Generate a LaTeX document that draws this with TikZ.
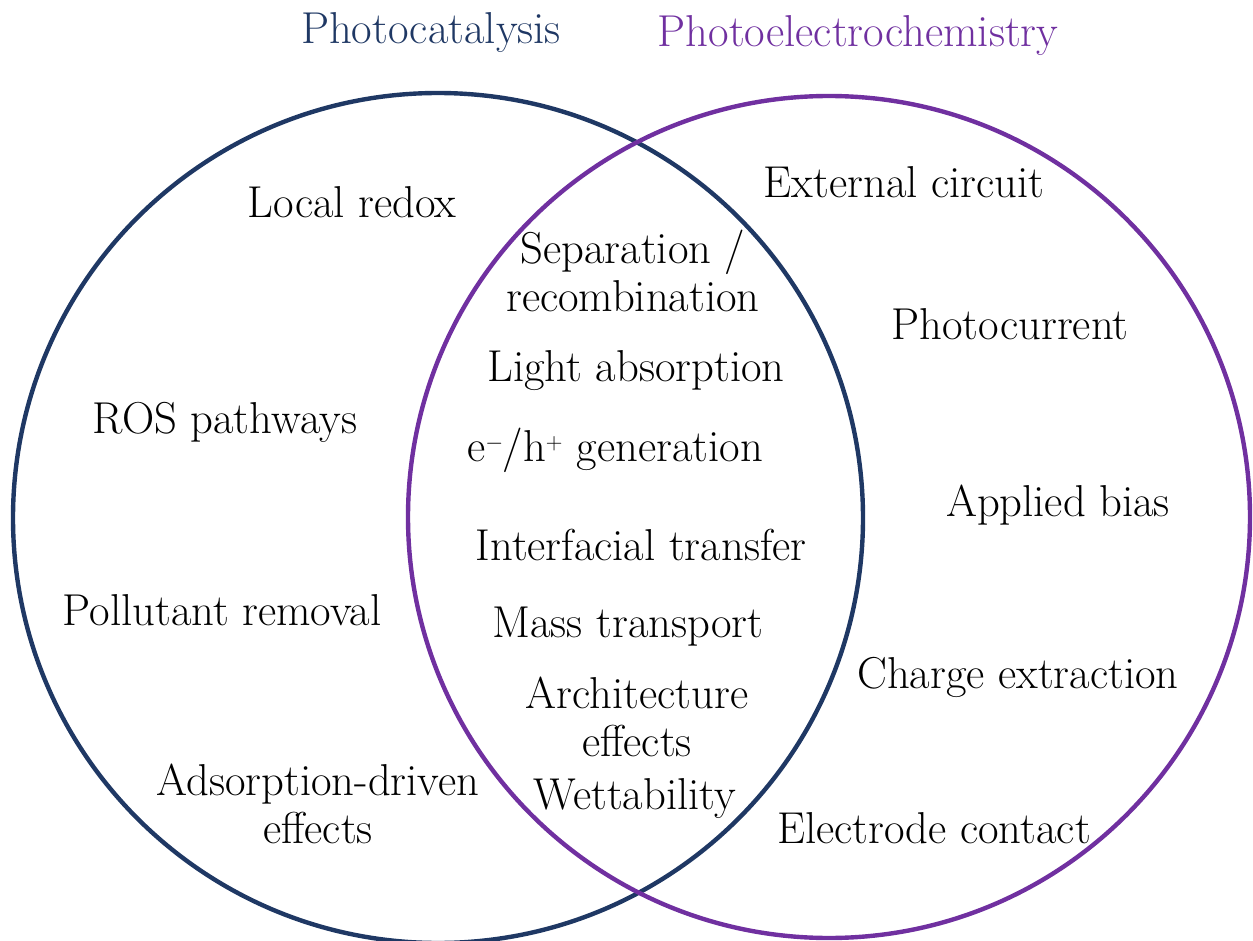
\documentclass[tikz,border=0pt]{standalone}
\definecolor{navy}{RGB}{31,56,100}
\definecolor{purp}{RGB}{112,48,160}
\begin{document}
\begin{tikzpicture}[x=0.75pt,y=-0.75pt,
  lbl/.style={font=\fontsize{33.5}{35.5}\selectfont,align=center,inner sep=0pt},
  ttl/.style={font=\fontsize{33.5}{35.5}\selectfont,inner sep=0pt}]
\useasboundingbox (0,0) rectangle (1253,941);
\draw[navy,line width=3.3pt] (438,518) circle[radius=425];
\draw[purp,line width=3.3pt] (829,517) circle[radius=421];
\node[ttl,text=navy] (t1) at (431,33) {Photocatalysis};
\node[ttl,text=purp] (t2) at (858,36) {Photoelectrochemistry};
\node[lbl] (a1) at (352,202) {Local redox};
\node[lbl] (a2) at (225,422) {ROS pathways};
\node[lbl] (a3) at (222,610) {Pollutant removal};
\node[lbl] (a4) at (318,804) {Adsorption-driven\\effects};
\node[lbl] (b1) at (633,271) {Separation /\\recombination};
\node[lbl] (b2) at (636,371) {Light absorption};
\node[lbl] (b3) at (615,450) {e$^{\scriptscriptstyle -}$\kern-1pt/h$^{\scriptscriptstyle +}$ generation};
\node[lbl] (b4) at (641,545) {Interfacial transfer};
\node[lbl] (b5) at (628,627) {Mass transport};
\node[lbl] (b6) at (637,717) {Architecture\\effects};
\node[lbl] (b7) at (635,799) {Wettability};
\node[lbl] (c1) at (904,182) {External circuit};
\node[lbl] (c2) at (1010,324) {Photocurrent};
\node[lbl] (c3) at (1058,505) {Applied bias};
\node[lbl] (c4) at (1018,677) {Charge extraction};
\node[lbl] (c5) at (934,828) {Electrode contact};
\end{tikzpicture}
\end{document}
